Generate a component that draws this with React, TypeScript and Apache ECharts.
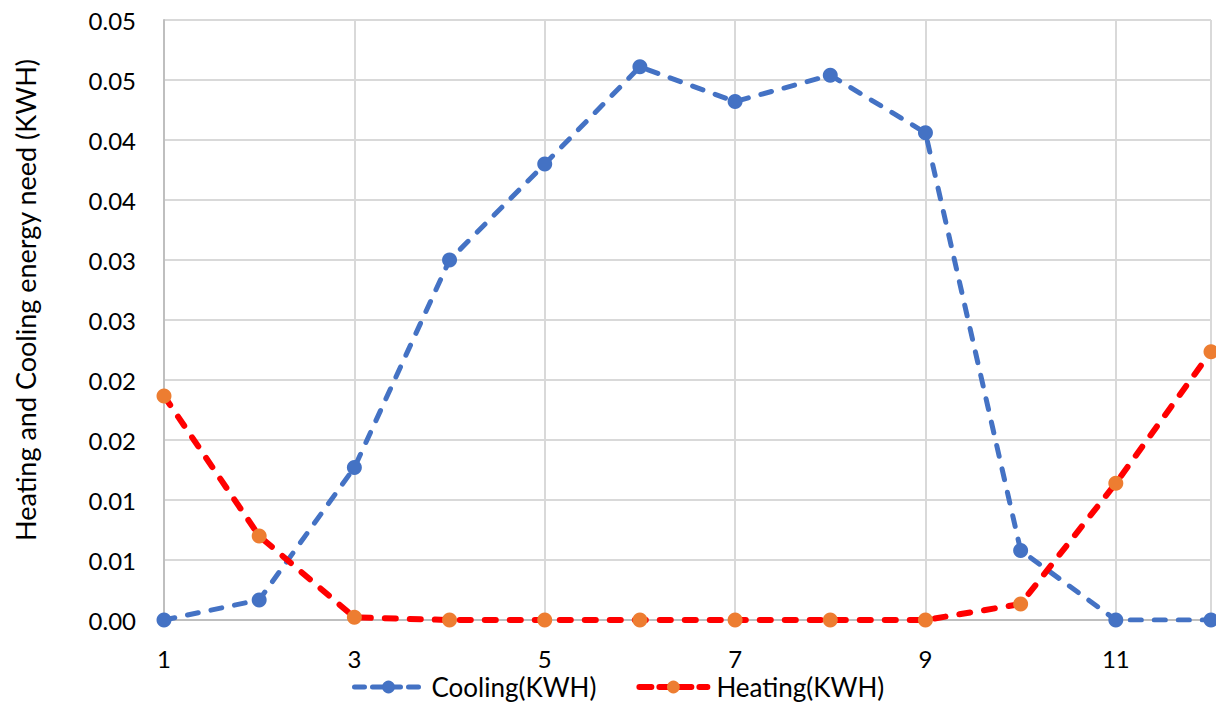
import React, { useEffect, useRef } from "react";
import * as echarts from "echarts";

const months = ["1", "2", "3", "4", "5", "6", "7", "8", "9", "10", "11", "12"];
const cooling = [0, 0.00167, 0.0127, 0.030, 0.038, 0.0461, 0.0432, 0.0454, 0.0406, 0.0058, 0, 0];
const heating = [0.01867, 0.007, 0.00022, 0, 0, 0, 0, 0, 0, 0.00133, 0.0114, 0.02236];
const seriesNames = ["Cooling(KWH)", "Heating(KWH)"];
const yAxisTitle = "Heating and Cooling energy need (KWH)";

export default function App() {
  const ref = useRef<HTMLDivElement>(null);
  useEffect(() => {
    if (!ref.current) return;
    const chart = echarts.init(ref.current, undefined, { renderer: "svg" });
    const font = "Lato, 'Open Sans', sans-serif";
    chart.setOption({
      animation: false,
      textStyle: { fontFamily: font },
      grid: { left: 164, right: 5, top: 20, bottom: 86, containLabel: false, outerBoundsMode: "none" },
      graphic: [
        {
          type: "text",
          x: 25,
          y: 300,
          rotation: Math.PI / 2,
          style: {
            text: yAxisTitle,
            fontSize: 27,
            fontFamily: font,
            fill: "#000",
            textAlign: "center",
            textVerticalAlign: "middle",
          },
        },
      ],
      legend: {
        top: 674,
        left: 352,
        padding: 0,
        itemWidth: 68,
        itemHeight: 16,
        itemGap: 40,
        textStyle: {
          fontSize: 26,
          lineHeight: 26,
          color: "#000",
          fontFamily: font,
          padding: [0, 0, 0, 4],
        },
        data: [
          { name: seriesNames[0], lineStyle: { width: 5, type: [10, 8], cap: "round" } },
          { name: seriesNames[1], lineStyle: { width: 6, type: [12, 8], cap: "round" } },
        ],
      },
      xAxis: {
        type: "category",
        data: months,
        boundaryGap: false,
        axisLine: { lineStyle: { color: "#bfbfbf", width: 2 } },
        axisTick: { show: false },
        axisLabel: {
          interval: (i: number) => i % 2 === 0,
          fontSize: 24,
          lineHeight: 24,
          color: "#000",
          margin: 26,
          fontFamily: font,
        },
        splitLine: {
          show: true,
          interval: (i: number) => i % 2 === 0 || i === months.length - 1,
          lineStyle: { color: "#d9d9d9", width: 2 },
        },
      },
      yAxis: {
        type: "value",
        min: 0,
        max: 0.05,
        interval: 0.005,
        axisLine: { show: true, lineStyle: { color: "#bfbfbf", width: 2 } },
        axisTick: { show: false },
        axisLabel: {
          fontSize: 24,
          color: "#000",
          margin: 28,
          fontFamily: font,
          formatter: (v: number) => (Math.round(v * 100 + 1e-6) / 100).toFixed(2),
        },
        splitLine: { lineStyle: { color: "#d9d9d9", width: 2 } },
      },
      series: [
        {
          name: seriesNames[0],
          type: "line",
          data: cooling,
          symbol: "circle",
          symbolSize: 15,
          itemStyle: { color: "#4472C4" },
          lineStyle: { color: "#4472C4", width: 5, type: [11, 13], cap: "round" },
          z: 2,
        },
        {
          name: seriesNames[1],
          type: "line",
          data: heating,
          symbol: "circle",
          symbolSize: 15,
          itemStyle: { color: "#ED7D31" },
          lineStyle: { color: "#FF0000", width: 6, type: [11, 14], cap: "round" },
          z: 3,
        },
      ],
    });
    return () => chart.dispose();
  }, []);
  return (
    <div
      ref={ref}
      style={{ position: "fixed", left: 0, top: 0, width: 1216, height: 706, background: "#fff" }}
    />
  );
}
